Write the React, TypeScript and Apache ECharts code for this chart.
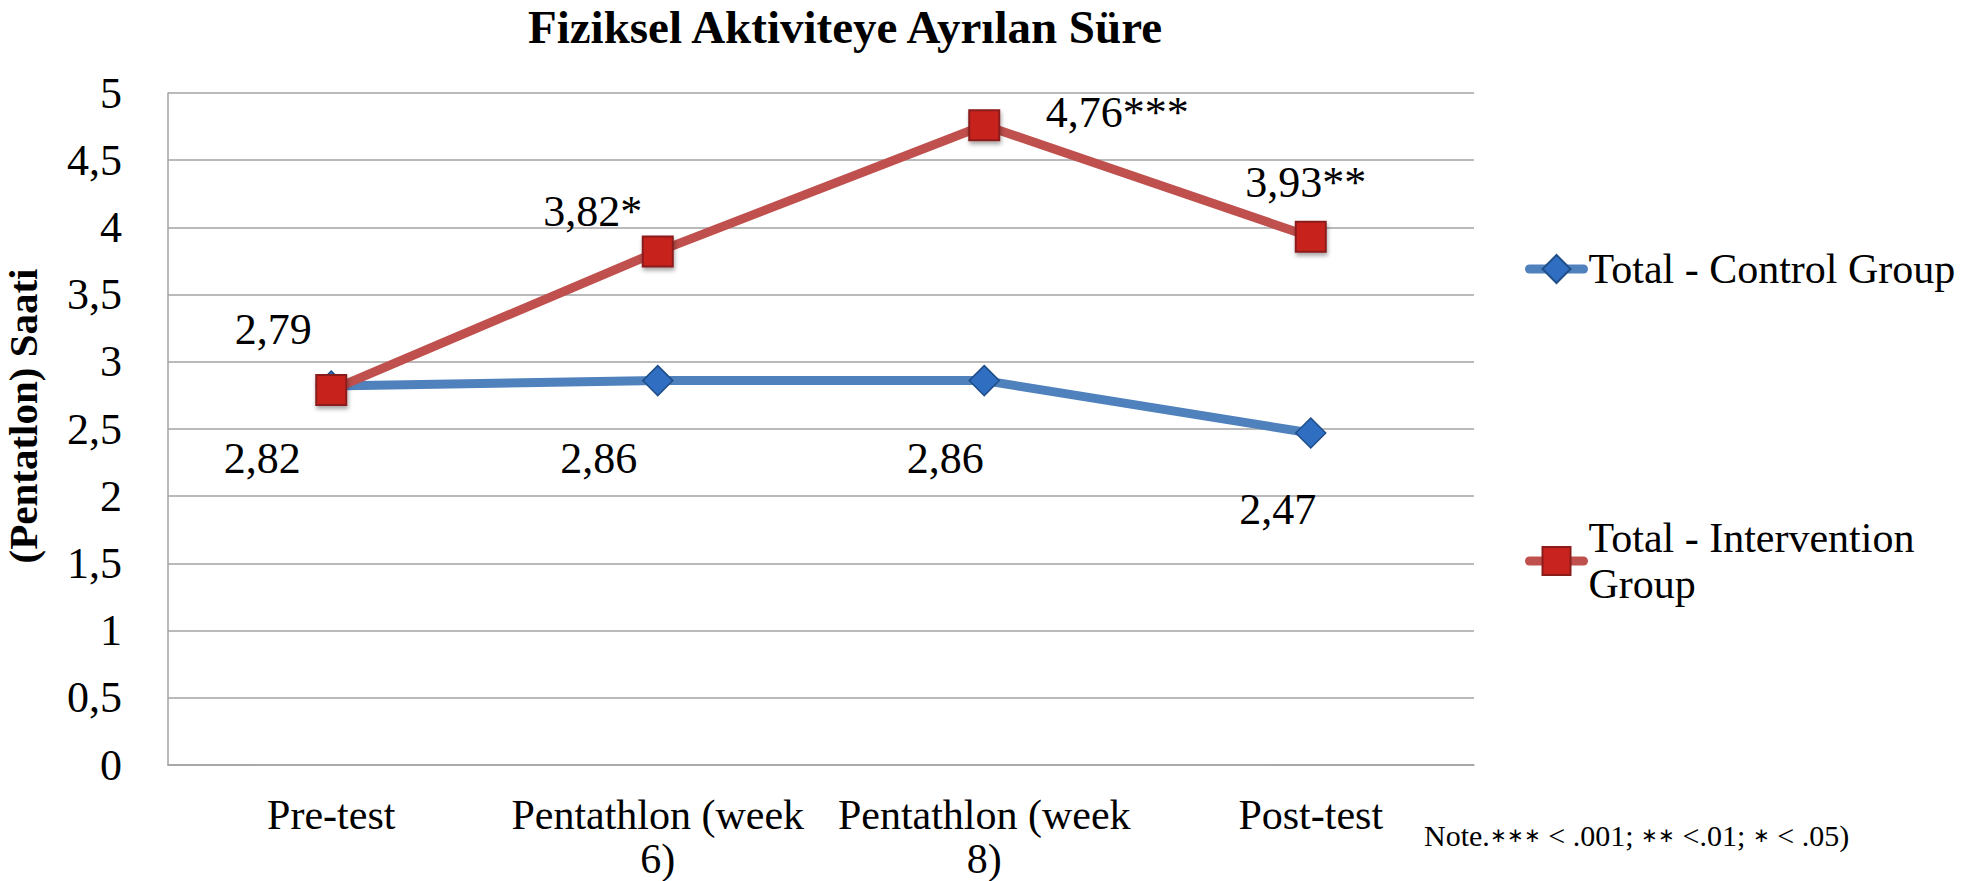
import React, { useEffect, useRef } from "react";
import * as echarts from "echarts";

const titleText = "Fiziksel Aktiviteye Ayrılan Süre";
const yAxisTitle = "(Pentatlon) Saati";
const noteParts = ["Note.", "∗∗∗", " < .001; ", "∗∗", " <.01; ", "∗", " < .05)"];
const categories = ["Pre-test", "Pentathlon (week\n6)", "Pentathlon (week\n8)", "Post-test"];
const controlName = "Total - Control Group";
const interventionName = "Total - Intervention Group";
const controlValues = [2.82, 2.86, 2.86, 2.47];
const interventionValues = [2.79, 3.82, 4.76, 3.93];
const controlStars = ["", "", "", ""];
const interventionStars = ["", "*", "***", "**"];
const yMin = 0;
const yMax = 5;
const yStep = 0.5;

const fmtComma = (v: number, digits: number) => {
  const s = digits >= 0 ? v.toFixed(digits) : String(v);
  return s.replace(".", ",");
};

export default function App() {
  const ref = useRef<HTMLDivElement>(null);

  useEffect(() => {
    if (!ref.current) return;
    const chart = echarts.init(ref.current, undefined, { renderer: "svg" });

    const serif = "Liberation Serif";
    const gridColor = "#a3a3a3";
    const ctlOffsets = [[-69, 73], [-59, 78], [-39, 78], [-33, 76]];
    const intOffsets = [[-58, -61], [-65, -40], [133, -13], [-5, -54]];

    const labelBase = {
      show: true,
      position: "inside",
      fontFamily: serif,
      fontSize: 44,
      color: "#000",
      align: "center",
      verticalAlign: "middle",
    };

    const noteRich = noteParts
      .map((p) => (p.indexOf("∗") >= 0 ? "{s|" + p + "}" : "{n|" + p + "}"))
      .join("");

    chart.setOption({
      animation: false,
      backgroundColor: "#fff",
      title: {
        text: titleText,
        left: 840,
        top: -2,
        textAlign: "center",
        textStyle: {
          fontFamily: serif,
          fontWeight: "bold",
          fontSize: 47,
          lineHeight: 47,
          color: "#000",
        },
      },
      grid: { left: 168, top: 93, width: 1306, height: 674, containLabel: false },
      legend: {
        orient: "vertical",
        left: 1520,
        top: 241,
        itemWidth: 54,
        itemHeight: 35,
        itemGap: 200,
        formatter: (name: string) =>
          name === interventionName ? "Total - Intervention\nGroup" : name,
        textStyle: {
          fontFamily: serif,
          fontSize: 42,
          lineHeight: 46,
          color: "#000",
        },
        lineStyle: { width: 9, cap: "round" },
        data: [
          { name: controlName },
          { name: interventionName, textStyle: { padding: [46, 0, 0, 0] } },
        ],
      },
      xAxis: {
        type: "category",
        data: categories,
        boundaryGap: true,
        axisLine: { show: true, lineStyle: { color: gridColor, width: 1.5 } },
        axisTick: { show: false },
        axisLabel: {
          interval: 0,
          margin: 28,
          fontFamily: serif,
          fontSize: 42,
          lineHeight: 44,
          color: "#000",
          verticalAlign: "top",
        },
      },
      yAxis: {
        type: "value",
        min: yMin,
        max: yMax,
        interval: yStep,
        axisLine: { show: true, lineStyle: { color: gridColor, width: 1.5 } },
        axisTick: { show: false },
        splitLine: { show: true, lineStyle: { color: gridColor, width: 1.5 } },
        axisLabel: {
          margin: 46,
          fontFamily: serif,
          fontSize: 44,
          color: "#000",
          formatter: (v: number) => fmtComma(v, -1),
        },
      },
      graphic: [
        {
          type: "text",
          x: 23,
          y: 416,
          rotation: Math.PI / 2,
          style: {
            text: yAxisTitle,
            fontFamily: serif,
            fontWeight: "bold",
            fontSize: 41,
            fill: "#000",
            align: "center",
            verticalAlign: "middle",
          },
        },
        {
          type: "text",
          x: 1424,
          y: 835,
          style: {
            text: noteRich,
            fontFamily: serif,
            fontSize: 30,
            fill: "#000",
            align: "left",
            verticalAlign: "middle",
            rich: {
              n: { fontFamily: serif, fontSize: 30, fill: "#000" },
              s: { fontFamily: serif, fontSize: 20, fill: "#000" },
            },
          },
        },
      ],
      series: [
        {
          name: controlName,
          type: "line",
          data: controlValues.map((v, i) => ({ value: v, label: { offset: ctlOffsets[i] } })),
          symbol: "diamond",
          symbolSize: 30,
          lineStyle: { color: "#4F81BD", width: 9 },
          itemStyle: { color: "#2F6EC1", borderColor: "#1F4E8A", borderWidth: 1.5 },
          label: {
            ...labelBase,
            formatter: (p: any) => fmtComma(p.value, 2) + controlStars[p.dataIndex],
          },
          z: 2,
        },
        {
          name: interventionName,
          type: "line",
          data: interventionValues.map((v, i) => ({ value: v, label: { offset: intOffsets[i] } })),
          symbol: "rect",
          symbolSize: 30,
          lineStyle: { color: "#C0504D", width: 9 },
          itemStyle: {
            color: "#C8231F",
            borderColor: "#8B1C1A",
            borderWidth: 2,
            shadowBlur: 4,
            shadowOffsetX: 1,
            shadowOffsetY: 3,
            shadowColor: "rgba(0,0,0,0.35)",
          },
          label: {
            ...labelBase,
            formatter: (p: any) => fmtComma(p.value, 2) + interventionStars[p.dataIndex],
          },
          z: 3,
        },
      ],
    });

    return () => chart.dispose();
  }, []);

  return (
    <div
      ref={ref}
      style={{ position: "fixed", left: 0, top: 0, width: 1975, height: 881, background: "#fff" }}
    />
  );
}
